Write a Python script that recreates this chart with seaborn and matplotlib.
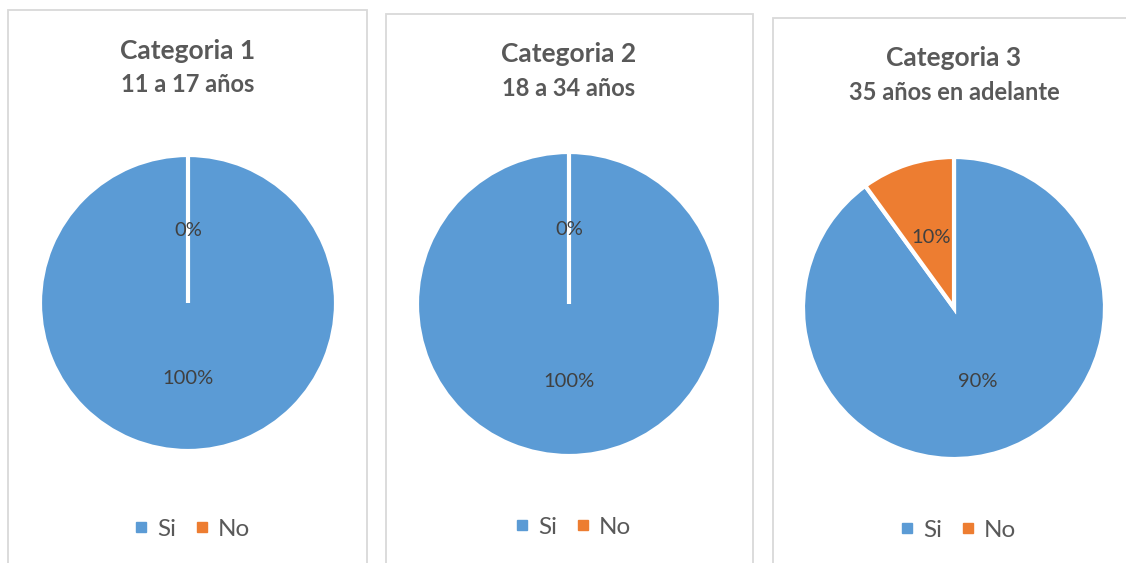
import matplotlib
matplotlib.use("Agg")
import matplotlib.pyplot as plt
from matplotlib.patches import Rectangle
from matplotlib.lines import Line2D
import seaborn as sns

# ---- data ----
categories = ["Categoria 1", "Categoria 2", "Categoria 3"]
age_ranges = ["11 a 17 años", "18 a 34 años", "35 años en adelante"]
answer_labels = ["Si", "No"]
si_values = [100, 100, 90]
no_values = [0, 0, 10]

sns.set_theme(style="white")
plt.rcParams["font.family"] = ["Lato", "DejaVu Sans"]
palette = sns.color_palette(["#5B9BD5", "#ED7D31"])

W, H = 1126, 563
fig = plt.figure(figsize=(W / 100, H / 100), dpi=100)
fig.patch.set_facecolor("white")

# layout in pixels (x_left, x_right, top) of panels; pie centers/radii
panels = [(8, 367, 10), (386, 753, 14), (773, 1140, 18)]
pies = [(188, 303, 148), (569, 304, 152), (954, 308, 151)]
title_y = [(51, 85), (54, 88), (58, 93)]
legend_y = [529, 527, 530]

title_color = "#595959"
label_color = "#404040"

for i in range(3):
    xl, xr, top = panels[i]
    fig.patches.append(Rectangle((xl / W, -0.1), (xr - xl) / W, (H - top) / H + 0.1,
                                 transform=fig.transFigure, facecolor="none",
                                 edgecolor="#D9D9D9", linewidth=1.3, zorder=0))
    cx, cy, r = pies[i]
    ax = fig.add_axes([(cx - r) / W, (H - cy - r) / H, 2 * r / W, 2 * r / H])
    wedges, texts, autotexts = ax.pie(
        [si_values[i], no_values[i]], colors=palette, startangle=90,
        counterclock=False, autopct="%.0f%%", pctdistance=0.5,
        wedgeprops=dict(edgecolor="white", linewidth=3),
        textprops=dict(color=label_color, fontsize=14.5))
    for t in autotexts:
        t.set_va("center_baseline")
    ax.set_xlim(-1, 1)
    ax.set_ylim(-1, 1)
    ax.set_axis_off()

    fig.text(cx / W, 1 - title_y[i][0] / H, categories[i], ha="center", va="center",
             fontsize=19, fontweight="bold", color=title_color)
    fig.text(cx / W, 1 - title_y[i][1] / H, age_ranges[i], ha="center", va="center",
             fontsize=17, fontweight="bold", color=title_color)

    handles = [Line2D([], [], linestyle="none", marker="s", markersize=7.5,
                      markerfacecolor=palette[k], markeredgecolor=palette[k])
               for k in range(2)]
    leg = fig.legend(handles, answer_labels, loc="center", ncol=2,
                     bbox_to_anchor=(cx / W + 0.004, 1 - legend_y[i] / H),
                     frameon=False, fontsize=17.5, handlelength=0.5,
                     handletextpad=0.4, columnspacing=0.8, borderpad=0)
    for t in leg.get_texts():
        t.set_color(title_color)

fig.savefig("out.png", dpi=100, facecolor="white")
